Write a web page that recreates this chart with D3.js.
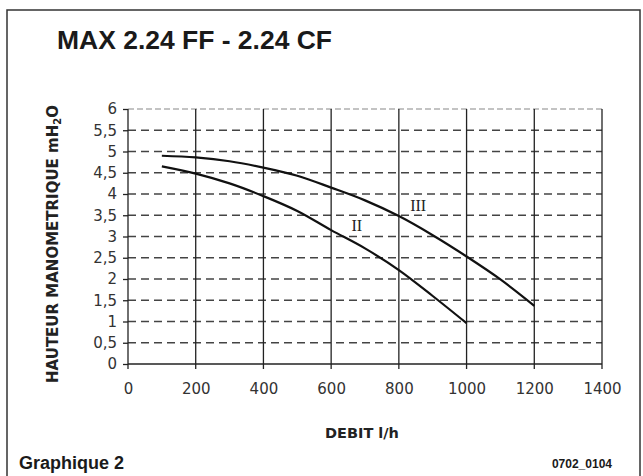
<!DOCTYPE html>
<html><head><meta charset="utf-8">
<script src="https://cdn.jsdelivr.net/npm/d3@7"></script>
<style>body{margin:0;background:#fff}svg{display:block}</style>
</head><body>
<script>
const xTicks = [0,200,400,600,800,1000,1200,1400];
const yTicks = [0,0.5,1,1.5,2,2.5,3,3.5,4,4.5,5,5.5,6];
const yTickLabels = ["0","0,5","1","1,5","2","2,5","3","3,5","4","4,5","5","5,5","6"];
const flowIII = [100,200,300,400,500,600,700,800,900,1000,1100,1200];
const headIII = [4.9,4.86,4.77,4.62,4.43,4.15,3.85,3.48,3.03,2.53,1.99,1.37];
const flowII = [100,200,300,400,500,600,700,800,900,1000];
const headII = [4.65,4.48,4.25,3.95,3.6,3.15,2.72,2.21,1.6,0.96];
const curveLabels = [{t:"II",x:676,y:3.25},{t:"III",x:857,y:3.72}];

const W=643,H=476;
const svg=d3.select("body").append("svg").attr("width",W).attr("height",H);
svg.append("rect").attr("x",7).attr("y",10).attr("width",633).attr("height",480)
  .attr("fill","#fff").attr("stroke","#333").attr("stroke-width",1.5);

const x=d3.scaleLinear().domain([0,1400]).range([128,602]);
const y=d3.scaleLinear().domain([0,6]).range([364,109]);

svg.append("text").attr("x",57).attr("y",49).attr("font-family","Liberation Sans, Arial, sans-serif")
  .attr("font-weight","bold").attr("font-size",26).attr("fill","#1a1a1a")
  .attr("textLength",275).attr("lengthAdjust","spacingAndGlyphs").text("MAX 2.24 FF - 2.24 CF");

const g=svg.append("g");
yTicks.filter(v=>v>0).forEach(v=>{
  g.append("line").attr("x1",x(0)).attr("x2",x(1400)).attr("y1",y(v)).attr("y2",y(v))
   .attr("stroke",v===6?"#888":"#444").attr("stroke-width",v===6?1.2:1.5)
   .attr("stroke-dasharray",v===6?"6,3":"8,5");
});
xTicks.forEach(v=>{
  g.append("line").attr("x1",x(v)).attr("x2",x(v)).attr("y1",y(6)).attr("y2",y(0)+5)
   .attr("stroke","#222").attr("stroke-width",1.3);
});
g.append("line").attr("x1",x(0)).attr("x2",x(1400)).attr("y1",y(0)).attr("y2",y(0))
  .attr("stroke","#222").attr("stroke-width",1.5);

const yAxis=d3.axisLeft(y).tickValues(yTicks).tickSize(5).tickPadding(6)
  .tickFormat((d,i)=>yTickLabels[i]);
const ya=svg.append("g").attr("transform",`translate(${x(0)},0)`).call(yAxis);
ya.select(".domain").remove();
ya.selectAll("line").attr("stroke","#222").attr("stroke-width",1.3);
ya.selectAll("text").attr("font-family","DejaVu Sans, Verdana, sans-serif").attr("font-size",15).attr("fill","#333");

const xAxis=d3.axisBottom(x).tickValues(xTicks).tickSize(0).tickPadding(19).tickFormat(d3.format("d"));
const xa=svg.append("g").attr("transform",`translate(0,${y(0)})`).call(xAxis);
xa.select(".domain").remove();
xa.selectAll("text").attr("font-family","DejaVu Sans, Verdana, sans-serif").attr("font-size",15).attr("fill","#333");

const line=d3.line().x(d=>x(d[0])).y(d=>y(d[1])).curve(d3.curveMonotoneX);
svg.append("path").datum(flowIII.map((f,i)=>[f,headIII[i]])).attr("d",line)
  .attr("fill","none").attr("stroke","#111").attr("stroke-width",2.2);
svg.append("path").datum(flowII.map((f,i)=>[f,headII[i]])).attr("d",line)
  .attr("fill","none").attr("stroke","#111").attr("stroke-width",2.2);

curveLabels.forEach(c=>{
  svg.append("text").attr("x",x(c.x)).attr("y",y(c.y)).attr("text-anchor","middle")
   .attr("dominant-baseline","central").attr("font-family","Liberation Serif, Times New Roman, serif")
   .attr("font-size",16).attr("fill","#222").text(c.t);
});

svg.append("text").attr("x",362).attr("y",438).attr("text-anchor","middle")
  .attr("font-family","DejaVu Sans, Verdana, sans-serif").attr("font-weight","bold")
  .attr("font-size",14.5).attr("fill","#222").text("DEBIT l/h");

const yt=svg.append("text").attr("transform","translate(58,244) rotate(-90)").attr("text-anchor","middle")
  .attr("font-family","DejaVu Sans, Verdana, sans-serif").attr("font-weight","bold")
  .attr("font-size",15).attr("fill","#222");
yt.append("tspan").text("HAUTEUR MANOMETRIQUE mH");
yt.append("tspan").attr("font-size",10).attr("dy",3).text("2");
yt.append("tspan").attr("dy",-3).text("O");

svg.append("text").attr("x",19).attr("y",469).attr("font-family","Liberation Sans, Arial, sans-serif")
  .attr("font-weight","bold").attr("font-size",18).attr("fill","#1a1a1a").text("Graphique 2");
svg.append("text").attr("x",612).attr("y",468).attr("text-anchor","end").attr("font-family","Liberation Sans, Arial, sans-serif")
  .attr("font-weight","bold").attr("font-size",12).attr("fill","#1a1a1a").text("0702_0104");
</script>
</body></html>
